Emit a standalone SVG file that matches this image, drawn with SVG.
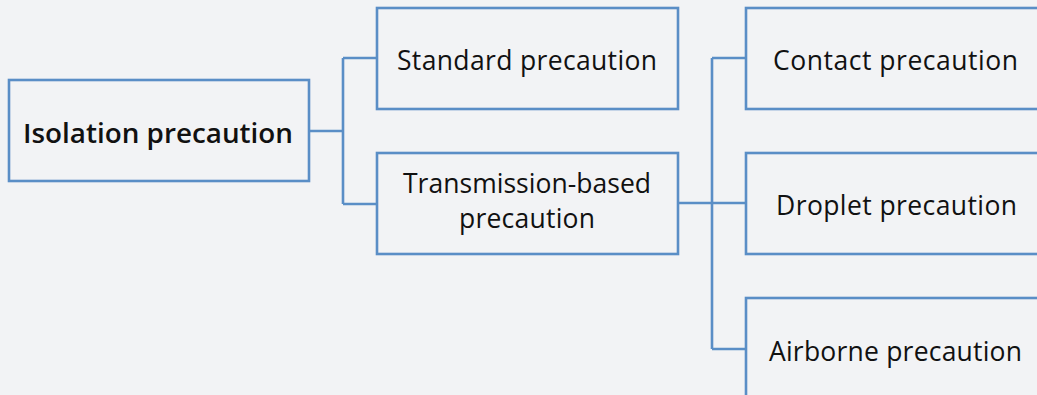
<svg xmlns="http://www.w3.org/2000/svg" width="1037" height="395" viewBox="0 0 1037 395">
<style>
.box{fill:#f2f3f5;stroke:#5a8ec6;stroke-width:2.6}
.con{fill:none;stroke:#5a8ec6;stroke-width:2.6}
text{font-family:"Open Sans","Noto Sans",sans-serif;font-size:26.5px;fill:#111;text-anchor:middle}
.b{font-weight:600}
</style>
<rect width="1037" height="395" fill="#f2f3f5"/>
<g id="connectors">
<path class="con" d="M309,131 H343 M343,58 V204 M343,58 H377 M343,204 H377"/>
<path class="con" d="M678,203 H712 M712,58 V349 M712,58 H746 M712,203 H746 M712,349 H746"/>
</g>
<g id="isolation">
<rect class="box" x="9" y="80" width="300" height="101"/>
<text class="b" x="158" y="143" textLength="270" lengthAdjust="spacingAndGlyphs">Isolation precaution</text>
</g>
<g id="standard">
<rect class="box" x="377" y="8" width="301" height="101"/>
<text x="527" y="70" textLength="260" lengthAdjust="spacing">Standard precaution</text>
</g>
<g id="transmission">
<rect class="box" x="377" y="153" width="301" height="101"/>
<text x="527" y="193" textLength="248" lengthAdjust="spacing">Transmission-based</text>
<text x="527" y="228" textLength="136" lengthAdjust="spacing">precaution</text>
</g>
<g id="contact">
<rect class="box" x="746" y="8" width="302" height="101"/>
<text x="895.5" y="70" textLength="245" lengthAdjust="spacing">Contact precaution</text>
</g>
<g id="droplet">
<rect class="box" x="746" y="153" width="302" height="101"/>
<text x="896.5" y="215" textLength="241" lengthAdjust="spacing">Droplet precaution</text>
</g>
<g id="airborne">
<rect class="box" x="746" y="298" width="302" height="101"/>
<text x="895.5" y="361" textLength="253" lengthAdjust="spacing">Airborne precaution</text>
</g>
</svg>
